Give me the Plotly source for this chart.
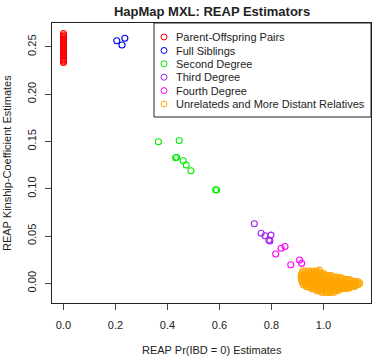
import plotly.graph_objects as go

# ---------------- data ----------------
po_x = [0.0] * 24
po_y = [0.2641, 0.2625, 0.2610, 0.2598, 0.2585, 0.2571, 0.2560, 0.2548, 0.2535, 0.2522,
        0.2510, 0.2498, 0.2485, 0.2471, 0.2460, 0.2447, 0.2433, 0.2420, 0.2405, 0.2390,
        0.2375, 0.2360, 0.2348, 0.2334]

fs_x = [0.205, 0.225, 0.236]
fs_y = [0.2565, 0.2520, 0.2590]

sd_x = [0.365, 0.445, 0.431, 0.435, 0.460, 0.472, 0.490, 0.585, 0.589]
sd_y = [0.1497, 0.1510, 0.1328, 0.1332, 0.1296, 0.1250, 0.1190, 0.0990, 0.0986]

td_x = [0.734, 0.760, 0.775, 0.798, 0.790, 0.794]
td_y = [0.0630, 0.0529, 0.0503, 0.0510, 0.0458, 0.0447]

fd_x = [0.852, 0.837, 0.816, 0.908, 0.916, 0.874]
fd_y = [0.0390, 0.0370, 0.0310, 0.0246, 0.0211, 0.0197]

un_x = [
    0.921, 0.931, 0.942, 0.953, 0.965, 0.976, 0.984,
    0.918, 0.928, 0.938, 0.949, 0.959, 0.970, 0.980, 0.991, 1.000,
    0.915, 0.925, 0.936, 0.946, 0.957, 0.967, 0.978, 0.988, 0.999, 1.009, 1.020, 1.030,
    0.914, 0.924, 0.934, 0.945, 0.955, 0.966, 0.976, 0.987, 0.997, 1.008, 1.018, 1.029, 1.039, 1.050, 1.060, 1.068,
    0.915, 0.925, 0.936, 0.946, 0.957, 0.967, 0.978, 0.988, 0.999, 1.009, 1.020, 1.030, 1.041, 1.051, 1.062, 1.072, 1.083, 1.093, 1.102,
    0.917, 0.927, 0.938, 0.948, 0.959, 0.969, 0.980, 0.990, 1.001, 1.011, 1.022, 1.032, 1.043, 1.053, 1.064, 1.074, 1.085, 1.095, 1.106, 1.116, 1.125, 1.133,
    0.920, 0.930, 0.941, 0.951, 0.962, 0.972, 0.983, 0.993, 1.004, 1.014, 1.025, 1.035, 1.046, 1.056, 1.067, 1.077, 1.088, 1.098, 1.109, 1.119, 1.130, 1.139,
    0.924, 0.934, 0.945, 0.955, 0.966, 0.976, 0.987, 0.997, 1.008, 1.018, 1.029, 1.039, 1.050, 1.060, 1.071, 1.081, 1.092, 1.102, 1.113, 1.123, 1.133,
    0.935, 0.945, 0.956, 0.966, 0.977, 0.987, 0.998, 1.008, 1.019, 1.029, 1.040, 1.050, 1.061, 1.071, 1.082, 1.092, 1.103, 1.113, 1.121,
    0.955, 0.965, 0.976, 0.986, 0.997, 1.007, 1.018, 1.028, 1.039, 1.049, 1.060, 1.070, 1.081, 1.090, 1.099,
    0.975, 0.985, 0.996, 1.006, 1.017, 1.027, 1.038, 1.048, 1.057,
    0.995, 1.012, 1.026, 1.040,
]
un_y = [
    0.0133, 0.0128, 0.0131, 0.0126, 0.0129, 0.0127, 0.0140,
    0.0110, 0.0107, 0.0112, 0.0108, 0.0111, 0.0106, 0.0110, 0.0108, 0.0104,
    0.0089, 0.0087, 0.0090, 0.0086, 0.0088, 0.0091, 0.0087, 0.0089, 0.0086, 0.0088, 0.0085, 0.0083,
    0.0068, 0.0066, 0.0069, 0.0065, 0.0067, 0.0070, 0.0066, 0.0068, 0.0065, 0.0067, 0.0069, 0.0066, 0.0064, 0.0066, 0.0062, 0.0059,
    0.0046, 0.0044, 0.0047, 0.0045, 0.0043, 0.0046, 0.0044, 0.0047, 0.0045, 0.0043, 0.0046, 0.0044, 0.0045, 0.0043, 0.0046, 0.0044, 0.0042, 0.0040, 0.0038,
    0.0025, 0.0023, 0.0026, 0.0022, 0.0024, 0.0025, 0.0023, 0.0026, 0.0024, 0.0022, 0.0025, 0.0023, 0.0024, 0.0026, 0.0022, 0.0024, 0.0023, 0.0025, 0.0022, 0.0021, 0.0019, 0.0017,
    0.0004, 0.0002, 0.0005, 0.0001, 0.0003, 0.0004, 0.0002, 0.0005, 0.0003, 0.0001, 0.0004, 0.0002, 0.0003, 0.0005, 0.0001, 0.0003, 0.0002, 0.0004, 0.0001, 0.0003, 0.0000, 0.0002,
    -0.0017, -0.0019, -0.0016, -0.0020, -0.0018, -0.0017, -0.0019, -0.0016, -0.0018, -0.0020, -0.0017, -0.0019, -0.0018, -0.0016, -0.0020, -0.0018, -0.0017, -0.0019, -0.0016, -0.0018, -0.0015,
    -0.0036, -0.0040, -0.0038, -0.0041, -0.0039, -0.0037, -0.0040, -0.0038, -0.0041, -0.0039, -0.0037, -0.0040, -0.0038, -0.0041, -0.0039, -0.0037, -0.0036, -0.0034, -0.0032,
    -0.0058, -0.0061, -0.0059, -0.0062, -0.0060, -0.0058, -0.0061, -0.0059, -0.0062, -0.0060, -0.0058, -0.0057, -0.0055, -0.0053, -0.0050,
    -0.0079, -0.0082, -0.0080, -0.0083, -0.0081, -0.0084, -0.0080, -0.0078, -0.0075,
    -0.0097, -0.0099, -0.0096, -0.0094,
]

x_ticks = [0.0, 0.2, 0.4, 0.6, 0.8, 1.0]
x_tick_labels = ["0.0", "0.2", "0.4", "0.6", "0.8", "1.0"]
y_ticks = [0.00, 0.05, 0.10, 0.15, 0.20, 0.25]
y_tick_labels = ["0.00", "0.05", "0.10", "0.15", "0.20", "0.25"]

series_names = ["Parent-Offspring Pairs", "Full Siblings", "Second Degree",
                "Third Degree", "Fourth Degree", "Unrelateds and More Distant Relatives"]
series_colors = ["#FF0000", "#0000FF", "#00EE00", "#A020F0", "#FF00FF", "#FFA500"]
series_x = [po_x, fs_x, sd_x, td_x, fd_x, un_x]
series_y = [po_y, fs_y, sd_y, td_y, fd_y, un_y]

# ---------------- layout geometry ----------------
W, H = 374, 358
L, R, T, B = 52, 3, 23, 55
PW, PH = W - L - R, H - T - B
FONT = "Liberation Sans, Arial, Helvetica, sans-serif"


def px(xp):
    return (xp - L) / PW


def py(yp):
    return (H - B - yp) / PH


fig = go.Figure()
for name, col, xs, ys in zip(series_names, series_colors, series_x, series_y):
    fig.add_trace(go.Scatter(
        x=xs, y=ys, mode="markers", name=name, showlegend=False,
        marker=dict(symbol="circle-open", size=6, color=col, line=dict(width=1.1, color=col)),
    ))

axis_common = dict(
    showgrid=False, zeroline=False, showline=True, mirror=True,
    linecolor="#222", linewidth=1, ticks="outside", ticklen=6, tickcolor="#444",
    tickfont=dict(family=FONT, size=11, color="#222"),
)

fig.update_layout(
    width=W, height=H,
    margin=dict(l=L, r=R, t=T, b=B, pad=0),
    paper_bgcolor="white", plot_bgcolor="white",
    xaxis=dict(range=[-0.0442, 1.1827], tickvals=x_ticks, ticktext=x_tick_labels,
               ticklabelstandoff=6, **axis_common),
    yaxis=dict(range=[-0.0208, 0.2752], tickvals=y_ticks, ticktext=y_tick_labels,
               tickangle=-90, ticklabelstandoff=5, **axis_common),
    title=dict(text="<b>HapMap MXL: REAP Estimators</b>", x=212 / W, xanchor="center",
               y=1 - 11 / H, yanchor="middle",
               font=dict(family=FONT, size=13, color="#222")),
)

annotations = [
    dict(text="REAP Pr(IBD = 0) Estimates", xref="paper", yref="paper",
         x=0.5, y=py(350), xanchor="center", yanchor="middle", showarrow=False,
         font=dict(family=FONT, size=11, color="#222")),
    dict(text="REAP Kinship-Coefficient Estimates", xref="paper", yref="paper",
         x=px(7), y=0.5, xanchor="center", yanchor="middle", showarrow=False, textangle=-90,
         font=dict(family=FONT, size=11, color="#222")),
]

shapes = [dict(type="rect", xref="paper", yref="paper", x0=px(154), x1=1.0,
               y0=py(117), y1=1.0, line=dict(color="#222", width=1), fillcolor="rgba(0,0,0,0)")]

row_y = [37, 50.5, 63.8, 77.2, 90.6, 104]
for name, col, yp in zip(series_names, series_colors, row_y):
    shapes.append(dict(type="circle", xref="paper", yref="paper",
                       xsizemode="pixel", ysizemode="pixel",
                       xanchor=px(164), yanchor=py(yp),
                       x0=-3, x1=3, y0=-3, y1=3,
                       line=dict(color=col, width=1), fillcolor="rgba(0,0,0,0)"))
    annotations.append(dict(text=name, xref="paper", yref="paper", x=px(174), y=py(yp),
                            xanchor="left", yanchor="middle", showarrow=False,
                            font=dict(family=FONT, size=11, color="#222")))

fig.update_layout(annotations=annotations, shapes=shapes)
fig.write_html("out.html", config={"displayModeBar": False},
               post_script="document.body.style.margin='0';document.body.style.overflow='hidden';")
